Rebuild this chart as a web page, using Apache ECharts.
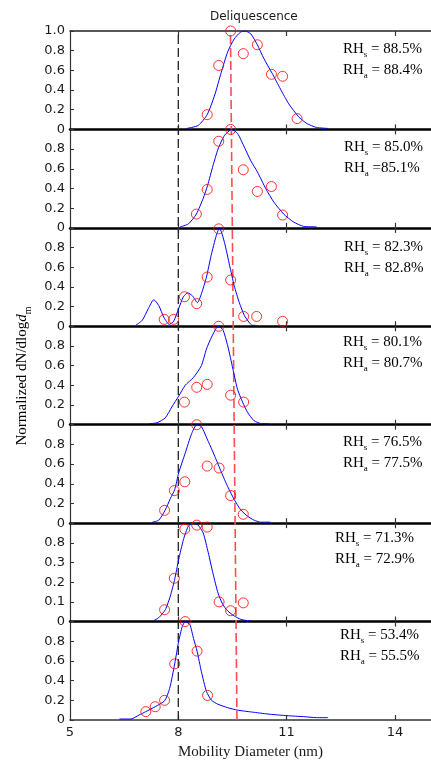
<!DOCTYPE html>
<html>
<head>
<meta charset="utf-8">
<script src="https://cdn.jsdelivr.net/npm/echarts@6/dist/echarts.min.js"></script>
<style>
  html, body { margin: 0; padding: 0; background: #ffffff; }
  #chart { width: 431px; height: 767px; }
</style>
</head>
<body>
<div id="chart"></div>
<script>
// ---- Axis ticks and labels ----
const xTickValues = [5, 8, 11, 14];
const yTickValues = [0, 0.2, 0.4, 0.6, 0.8];
const yTickLabelsTop = ['0', '0.2', '0.4', '0.6', '0.8', '1.0'];
const yTickLabelsStd = ['0', '0.2', '0.4', '0.6', '0.8'];
const yTickLabelsP6 = ['0', '0.1', '0.2', '0.3', '0.8'];

// ---- RH annotations (sample RH, aerosol RH) per panel, top to bottom ----
const rhSampleText = [' = 88.5%', ' = 85.0%', ' = 82.3%', ' = 80.1%', ' = 76.5%', ' = 71.3%', ' = 53.4%'];
const rhAerosolText = [' = 88.4%', ' =85.1%', ' = 82.8%', ' = 80.7%', ' = 77.5%', ' = 72.9%', ' = 55.5%'];

// ---- Measured size distributions [mobility diameter (nm), normalized dN/dlogdm] ----
const meas885 = [[9.45, 1.0], [9.80, 0.77], [10.19, 0.86], [9.12, 0.65], [10.58, 0.56], [10.89, 0.54], [8.80, 0.15], [11.29, 0.11]];
const meas850 = [[9.45, 1.0], [9.12, 0.88], [9.80, 0.59], [8.80, 0.39], [10.19, 0.37], [10.58, 0.42], [8.50, 0.14], [10.89, 0.13]];
const meas823 = [[9.12, 0.99], [8.80, 0.50], [9.45, 0.47], [8.17, 0.30], [8.51, 0.23], [9.81, 0.10], [10.17, 0.10], [10.89, 0.05], [7.61, 0.07], [7.87, 0.07]];
const meas801 = [[9.12, 1.0], [8.80, 0.41], [8.51, 0.38], [9.45, 0.30], [9.81, 0.23], [8.17, 0.23]];
const meas765 = [[8.51, 1.0], [8.80, 0.58], [9.13, 0.56], [8.18, 0.42], [7.89, 0.33], [9.45, 0.28], [7.62, 0.13], [9.80, 0.09]];
const meas713 = [[8.18, 0.94], [8.51, 0.98], [8.80, 0.96], [7.89, 0.44], [7.62, 0.12], [9.13, 0.20], [9.45, 0.11], [9.80, 0.19]];
const meas534 = [[8.19, 1.0], [8.52, 0.70], [7.90, 0.57], [8.81, 0.25], [7.62, 0.20], [7.36, 0.135], [7.10, 0.085]];

// ---- Modelled distributions ----
const fit885 = [[8.23, 0.01], [8.55, 0.04], [8.80, 0.15], [9.01, 0.35], [9.19, 0.58], [9.37, 0.79], [9.55, 0.92], [9.73, 0.99], [9.85, 1.0], [10.01, 0.97], [10.19, 0.86], [10.37, 0.72], [10.60, 0.57], [10.83, 0.41], [11.06, 0.26], [11.33, 0.13], [11.56, 0.06], [11.83, 0.02], [12.15, 0.01]];
const fit850 = [[8.05, 0.01], [8.28, 0.04], [8.50, 0.14], [8.69, 0.30], [8.81, 0.43], [8.96, 0.63], [9.10, 0.80], [9.28, 0.94], [9.48, 1.0], [9.64, 0.96], [9.83, 0.82], [10.01, 0.68], [10.19, 0.57], [10.42, 0.40], [10.65, 0.26], [10.92, 0.14], [11.19, 0.06], [11.47, 0.015], [11.83, 0.01]];
const fit823 = [[6.82, 0.01], [7.00, 0.06], [7.17, 0.18], [7.32, 0.27], [7.46, 0.21], [7.60, 0.09], [7.75, 0.02], [7.87, 0.05], [8.01, 0.18], [8.14, 0.30], [8.26, 0.34], [8.39, 0.31], [8.53, 0.24], [8.64, 0.33], [8.78, 0.50], [8.91, 0.72], [9.05, 0.92], [9.14, 1.0], [9.28, 0.85], [9.42, 0.62], [9.55, 0.41], [9.69, 0.24], [9.83, 0.11], [9.96, 0.04], [10.05, 0.01], [10.14, 0.01]];
const fit801 = [[7.19, 0.01], [7.41, 0.02], [7.64, 0.07], [7.82, 0.18], [8.01, 0.29], [8.19, 0.40], [8.42, 0.48], [8.64, 0.60], [8.78, 0.77], [8.92, 0.89], [9.05, 0.98], [9.10, 1.0], [9.23, 0.97], [9.37, 0.80], [9.51, 0.57], [9.64, 0.36], [9.78, 0.23], [9.92, 0.125], [10.10, 0.04], [10.28, 0.013], [10.51, 0.01]];
const fit765 = [[7.28, 0.01], [7.46, 0.03], [7.64, 0.135], [7.78, 0.25], [7.90, 0.34], [8.01, 0.51], [8.19, 0.71], [8.37, 0.91], [8.51, 1.0], [8.64, 0.98], [8.83, 0.83], [9.01, 0.68], [9.19, 0.52], [9.37, 0.37], [9.55, 0.24], [9.73, 0.135], [9.92, 0.07], [10.10, 0.03], [10.28, 0.01], [10.55, 0.01]];
const fit713 = [[7.32, 0.01], [7.46, 0.04], [7.64, 0.12], [7.78, 0.26], [7.90, 0.43], [8.01, 0.63], [8.14, 0.83], [8.28, 0.97], [8.42, 1.0], [8.55, 0.98], [8.69, 0.90], [8.83, 0.70], [8.96, 0.49], [9.10, 0.29], [9.23, 0.175], [9.37, 0.107], [9.55, 0.057], [9.73, 0.023], [9.92, 0.01], [10.0, 0.01]];
const fit534 = [[6.37, 0.01], [6.69, 0.01], [6.91, 0.05], [7.10, 0.085], [7.36, 0.135], [7.62, 0.195], [7.76, 0.32], [7.90, 0.57], [8.01, 0.80], [8.11, 0.95], [8.19, 1.0], [8.32, 0.97], [8.42, 0.83], [8.52, 0.70], [8.64, 0.49], [8.78, 0.29], [8.92, 0.20], [9.10, 0.16], [9.37, 0.125], [9.64, 0.10], [10.10, 0.078], [10.55, 0.058], [11.01, 0.044], [11.47, 0.034], [11.83, 0.024], [12.15, 0.024]];

// ---- Reference diameters, drawn across the whole stack (y in panel units, 0 = bottom, 7 = top) ----
const dryDiameterLine = [[8.0, 0], [8.0, 7]];
const deliqDiameterLine = [[9.625, 0], [9.445, 7]];

const measured = [meas885, meas850, meas823, meas801, meas765, meas713, meas534];
const fitted = [fit885, fit850, fit823, fit801, fit765, fit713, fit534];
const yLabelSets = [yTickLabelsTop, yTickLabelsStd, yTickLabelsStd, yTickLabelsStd, yTickLabelsStd, yTickLabelsP6, yTickLabelsStd];

// ---- Layout ----
const PLOT_LEFT = 70;
const PLOT_TOP = 31;
const PLOT_BOTTOM = 720;
const PLOT_WIDTH = 366;
const N = measured.length;
const PANEL_H = (PLOT_BOTTOM - PLOT_TOP) / N;
const X_MIN = 5, X_MAX = 15;

const SANS = '"DejaVu Sans", sans-serif';
const SERIF = '"Liberation Serif", "Times New Roman", serif';
const INK = '#1a1a1a';

const grids = [], xAxes = [], yAxes = [], series = [];

for (let i = 0; i < N; i++) {
  const isTop = i === 0;
  const isBottom = i === N - 1;
  grids.push({ left: PLOT_LEFT, top: PLOT_TOP + i * PANEL_H, width: PLOT_WIDTH, height: PANEL_H });

  // bottom axis of the panel (zero line)
  xAxes.push({
    type: 'value', gridIndex: i, position: 'bottom', min: X_MIN, max: X_MAX,
    axisLine: { show: true, onZero: false, lineStyle: { color: isBottom ? '#333' : '#000', width: isBottom ? 1.5 : 2.5 } },
    axisTick: { show: true, inside: true, length: 5, customValues: [8, 11, 14], lineStyle: { color: '#333', width: 1.2 } },
    axisLabel: {
      show: isBottom, customValues: xTickValues, margin: 6,
      fontFamily: SANS, fontSize: 13, color: INK
    },
    splitLine: { show: false },
    name: isBottom ? 'Mobility Diameter (nm)' : '',
    nameLocation: 'middle', nameGap: 25,
    nameTextStyle: { fontFamily: SERIF, fontSize: 15, color: INK }
  });
  // top axis of the panel (frame + inward ticks)
  xAxes.push({
    type: 'value', gridIndex: i, position: 'top', min: X_MIN, max: X_MAX,
    axisLine: { show: isTop, onZero: false, lineStyle: { color: '#222', width: 1.5 } },
    axisTick: { show: true, inside: true, length: 5, customValues: [8, 11, 14], lineStyle: { color: '#333', width: 1.2 } },
    axisLabel: { show: false },
    splitLine: { show: false }
  });

  const labels = yLabelSets[i];
  const ticks = isTop ? yTickValues.concat([1]) : yTickValues;
  yAxes.push({
    type: 'value', gridIndex: i, min: 0, max: 1,
    axisLine: { show: true, onZero: false, lineStyle: { color: '#333', width: 1.2 } },
    axisTick: { show: true, inside: true, length: 4, customValues: ticks, lineStyle: { color: '#333' } },
    axisLabel: {
      show: true, customValues: ticks, margin: 5,
      fontFamily: SANS, fontSize: 13, color: INK,
      formatter: (v) => labels[Math.round(v / 0.2)]
    },
    splitLine: { show: false }
  });

  series.push({
    type: 'line', xAxisIndex: 2 * i, yAxisIndex: i,
    data: fitted[i], smooth: 0.2, showSymbol: false, clip: false,
    lineStyle: { color: '#0000ff', width: 1 }, z: 3
  });
  series.push({
    type: 'scatter', xAxisIndex: 2 * i, yAxisIndex: i,
    data: measured[i], symbol: 'circle', symbolSize: 10, clip: false,
    itemStyle: { color: 'rgba(0,0,0,0)', borderColor: '#ff0000', borderWidth: 1 }, z: 4
  });
}

// overlay grid spanning all panels for the reference diameter lines
grids.push({ left: PLOT_LEFT, top: PLOT_TOP, width: PLOT_WIDTH, height: PLOT_BOTTOM - PLOT_TOP });
xAxes.push({ type: 'value', gridIndex: N, min: X_MIN, max: X_MAX, show: false });
yAxes.push({ type: 'value', gridIndex: N, min: 0, max: N, show: false });
series.push({
  type: 'line', xAxisIndex: 2 * N, yAxisIndex: N, data: dryDiameterLine,
  showSymbol: false, lineStyle: { color: '#222', width: 1.3, type: [9, 4] }, z: 2
});
series.push({
  type: 'line', xAxisIndex: 2 * N, yAxisIndex: N, data: deliqDiameterLine,
  showSymbol: false, lineStyle: { color: '#ff4d4d', width: 1.6, type: [9, 4] }, z: 2
});

// RH annotations
const rhX = [343, 344, 344, 343, 343, 335, 340];
const rhY = [49, 147, 247, 342, 442, 538, 635];
const rich = {
  m: { fontFamily: SERIF, fontSize: 15, color: INK },
  s: { fontFamily: SERIF, fontSize: 9, color: INK, padding: [12, 0, 0, 0] }
};
const graphics = [];
for (let i = 0; i < N; i++) {
  graphics.push({
    type: 'text', x: rhX[i], y: rhY[i],
    style: { text: '{m|RH}{s|s}{m|' + rhSampleText[i] + '}', rich, align: 'left', verticalAlign: 'middle' }
  });
  graphics.push({
    type: 'text', x: rhX[i], y: rhY[i] + 21,
    style: { text: '{m|RH}{s|a}{m|' + rhAerosolText[i] + '}', rich, align: 'left', verticalAlign: 'middle' }
  });
}
// vertical axis title
graphics.push({
  type: 'text', x: 22, y: 376, rotation: Math.PI / 2,
  style: {
    text: '{m|Normalized dN/dlog}{i|d}{s|m}',
    rich: {
      m: { fontFamily: SERIF, fontSize: 15, color: INK },
      i: { fontFamily: SERIF, fontSize: 15, fontStyle: 'italic', color: INK },
      s: { fontFamily: SERIF, fontSize: 10, color: INK, padding: [12, 0, 0, 0] }
    },
    align: 'center', verticalAlign: 'middle'
  }
});

const chart = echarts.init(document.getElementById('chart'), null, { renderer: 'canvas' });
chart.setOption({
  animation: false,
  backgroundColor: '#ffffff',
  title: {
    text: 'Deliquescence', left: 205, top: 6,
    textStyle: { fontFamily: SANS, fontSize: 12, fontWeight: 'normal', color: INK }
  },
  grid: grids,
  xAxis: xAxes,
  yAxis: yAxes,
  series: series,
  graphic: graphics
});
</script>
</body>
</html>
